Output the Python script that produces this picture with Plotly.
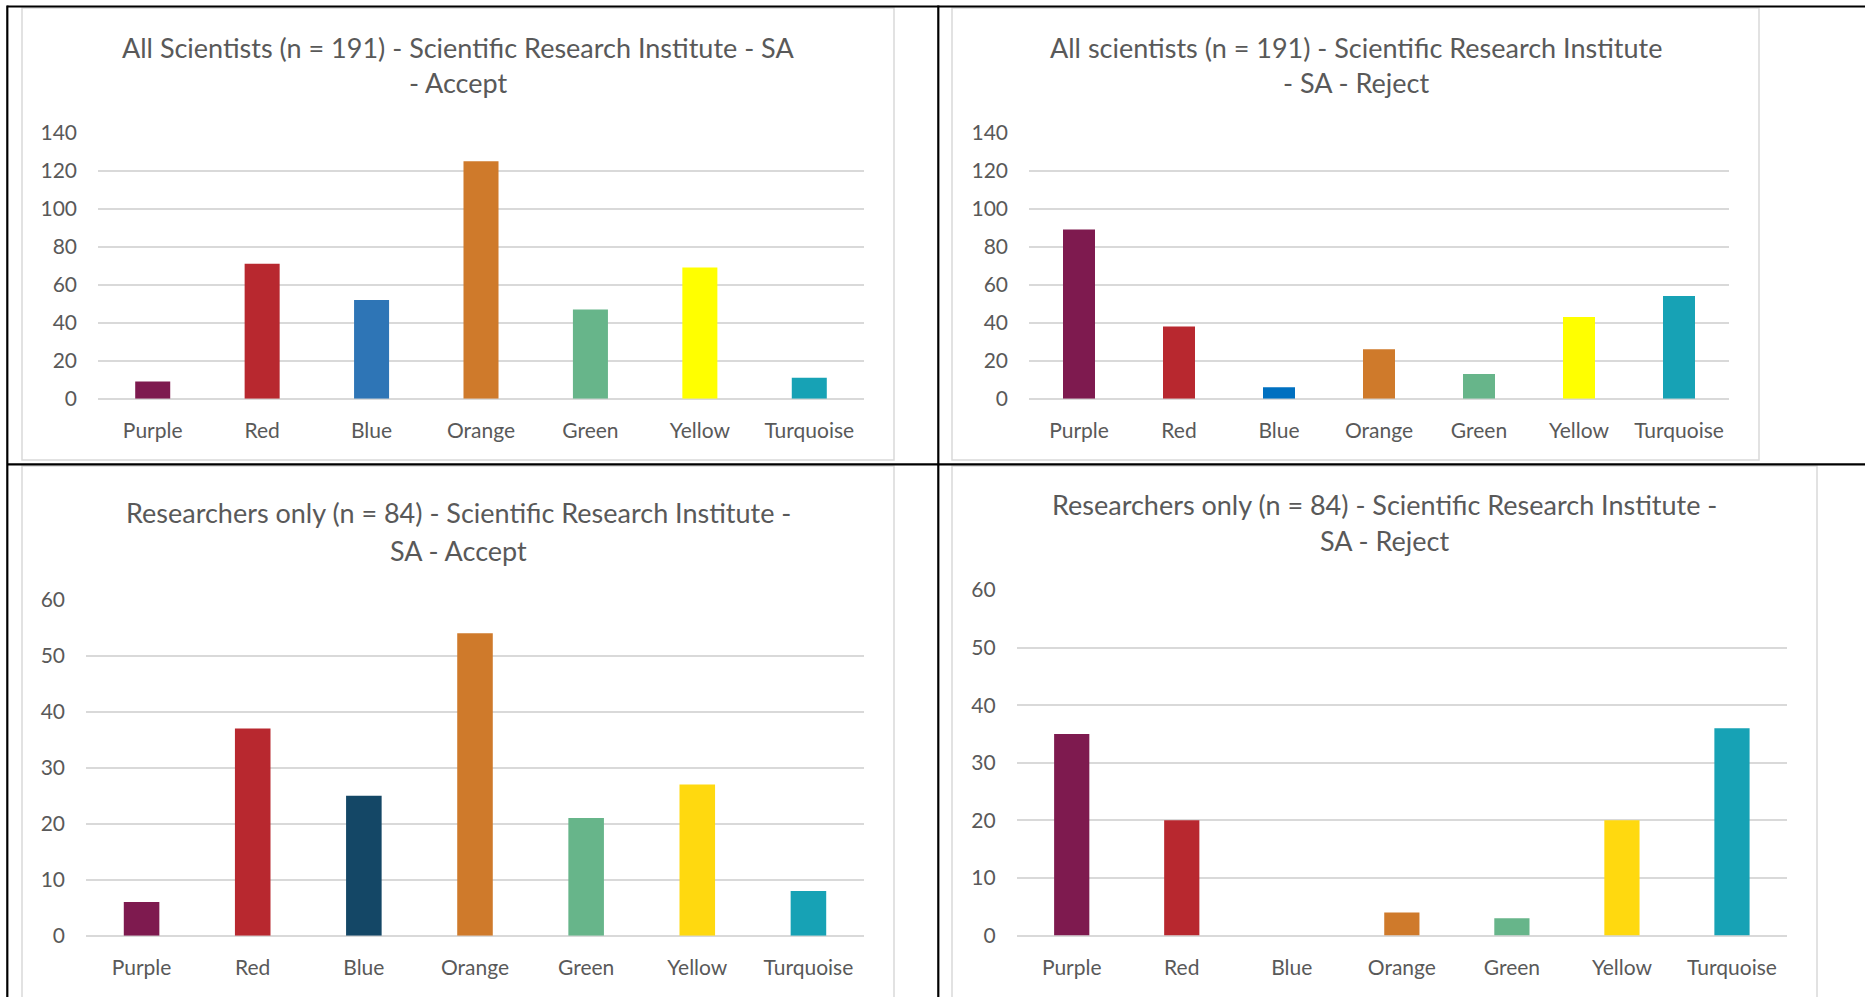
import plotly.graph_objects as go

W, H = 1865, 997

categories = ["Purple", "Red", "Blue", "Orange", "Green", "Yellow", "Turquoise"]

all_accept = [9, 71, 52, 125, 47, 69, 11]
all_reject = [89, 38, 6, 26, 13, 43, 54]
res_accept = [6, 37, 25, 54, 21, 27, 8]
res_reject = [35, 20, 0, 4, 3, 20, 36]

colors_all_accept = ["#7E1A4F", "#B8282F", "#2E75B6", "#CF7A2B", "#67B58A", "#FFFF00", "#17A2B5"]
colors_all_reject = ["#7E1A4F", "#B8282F", "#0070C0", "#CF7A2B", "#67B58A", "#FFFF00", "#17A2B5"]
colors_res_accept = ["#7E1A4F", "#B8282F", "#144766", "#CF7A2B", "#67B58A", "#FFD90F", "#17A2B5"]
colors_res_reject = ["#7E1A4F", "#B8282F", "#144766", "#CF7A2B", "#67B58A", "#FFD90F", "#17A2B5"]

titles = [
    ["All Scientists (n = 191) - Scientific Research Institute - SA", "- Accept"],
    ["All scientists (n = 191) - Scientific Research Institute", "- SA - Reject"],
    ["Researchers only (n = 84) - Scientific Research Institute -", "SA - Accept"],
    ["Researchers only (n = 84) - Scientific Research Institute -", "SA - Reject"],
]

y_ranges = [[0, 140], [0, 140], [0, 60], [0, 60]]
y_dticks = [20, 20, 10, 10]

# layout in pixels: plot area (x0, x1, ytop, ybottom), chart box (x0, x1, y0, y1), title line y
plots_px = [
    (98, 864, 132.7, 398.7),
    (1029, 1729, 132.7, 398.7),
    (86, 864, 599.7, 935.7),
    (1016.7, 1787, 590.1, 935.5),
]
boxes_px = [
    (22, 894, 8, 460),
    (952, 1759, 8, 460),
    (22, 894, 466, 1005),
    (952, 1817, 466, 1005),
]
title_y_px = [(47.5, 82), (47.5, 82), (512, 550), (504, 540.5)]

TXT = "#595959"
FONT = "Lato"
GRID = "#D9D9D9"

def px_x(x):
    return x / W

def px_y(y):
    return 1 - y / H

fig = go.Figure()

series = [all_accept, all_reject, res_accept, res_reject]
colors = [colors_all_accept, colors_all_reject, colors_res_accept, colors_res_reject]

shapes = []
annotations = []

for i in range(4):
    n = "" if i == 0 else str(i + 1)
    fig.add_trace(go.Bar(
        x=categories, y=series[i], marker=dict(color=colors[i], line=dict(width=0)),
        xaxis="x" + n, yaxis="y" + n, showlegend=False, hoverinfo="x+y",
    ))
    x0, x1, yt, yb = plots_px[i]
    fig.update_layout(**{
        "xaxis" + n: dict(
            domain=[px_x(x0), px_x(x1)], anchor="y" + n, range=[-0.5, 6.5],
            showgrid=False, zeroline=False, showline=False, ticks="", automargin=False,
            tickfont=dict(family=FONT, size=21, color=TXT), ticklabelstandoff=17,
            fixedrange=True,
        ),
        "yaxis" + n: dict(
            domain=[px_y(yb), px_y(yt)], anchor="x" + n, range=y_ranges[i],
            dtick=y_dticks[i], tick0=0, showgrid=True, gridcolor=GRID, gridwidth=1.5,
            zeroline=True, zerolinecolor=GRID, zerolinewidth=1.5, showline=False, ticks="",
            automargin=False,
            tickfont=dict(family=FONT, size=21, color=TXT), ticklabelstandoff=20,
            fixedrange=True,
        ),
    })
    bx0, bx1, by0, by1 = boxes_px[i]
    shapes.append(dict(type="rect", xref="paper", yref="paper",
                       x0=px_x(bx0), x1=px_x(bx1), y0=px_y(by1), y1=px_y(by0),
                       line=dict(color=GRID, width=1.5), fillcolor="white", layer="below"))
    cx = (bx0 + bx1) / 2
    for line_text, ty in zip(titles[i], title_y_px[i]):
        annotations.append(dict(text=line_text, xref="paper", yref="paper",
                                x=px_x(cx), y=px_y(ty), xanchor="center", yanchor="middle",
                                showarrow=False, font=dict(family=FONT, size=27, color=TXT)))

# table lines
for (x0, y0, x1, y1) in [
    (7.3, 6.5, W, 6.5),
    (7.3, 464.3, W, 464.3),
    (7.3, 5.5, 7.3, H + 5),
    (938.3, 5.5, 938.3, H + 5),
]:
    shapes.append(dict(type="line", xref="paper", yref="paper",
                       x0=px_x(x0), x1=px_x(x1), y0=px_y(y0), y1=px_y(y1),
                       line=dict(color="black", width=2.2), layer="below"))

fig.update_layout(
    width=W, height=H, margin=dict(l=0, r=0, t=0, b=0, pad=0, autoexpand=False),
    paper_bgcolor="white", plot_bgcolor="rgba(0,0,0,0)",
    bargap=0.68, shapes=shapes, annotations=annotations,
    font=dict(family=FONT, color=TXT),
)

fig.write_html(
    "out.html",
    config={"displayModeBar": False},
    post_script="document.body.style.margin='0';document.body.style.overflow='hidden';",
)
